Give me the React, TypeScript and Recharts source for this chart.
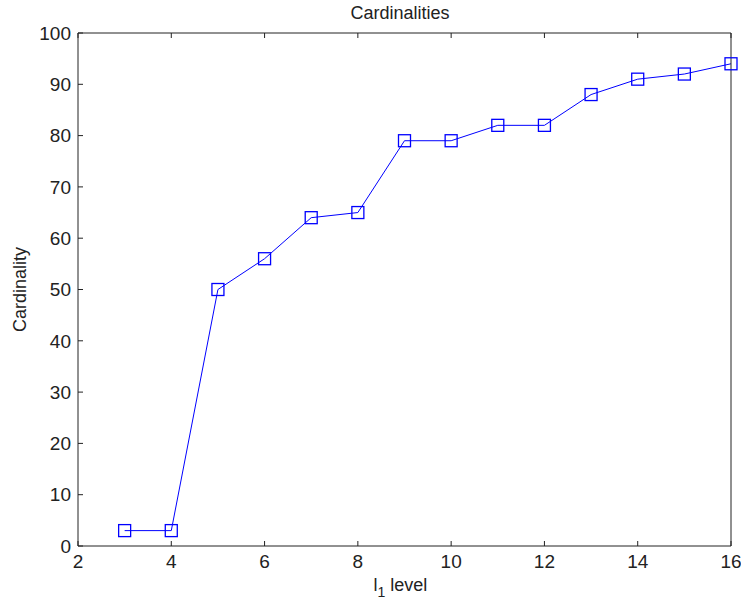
import { LineChart, Line, XAxis, YAxis, Label } from "recharts";

// l1 level vs cardinality
const levels = [3, 4, 5, 6, 7, 8, 9, 10, 11, 12, 13, 14, 15, 16];
const cardinality = [3, 3, 50, 56, 64, 65, 79, 79, 82, 82, 88, 91, 92, 94];
const xTicks = [2, 4, 6, 8, 10, 12, 14, 16];
const yTicks = [0, 10, 20, 30, 40, 50, 60, 70, 80, 90, 100];

const FONT = '"Liberation Sans", Arial, sans-serif';
const FS = 19;
const LFS = 18;
const BLUE = "#0000ff";
const AXIS = "#222222";
const TICK_LEN = 5;

const data = levels.map((l, i) => ({ level: l, card: cardinality[i] }));

function SquareDot(props: any) {
  const { cx, cy } = props;
  if (cx == null || cy == null) return null;
  const s = 12;
  return (
    <rect
      x={cx - s / 2}
      y={cy - s / 2}
      width={s}
      height={s}
      fill="none"
      stroke={BLUE}
      strokeWidth={1.3}
    />
  );
}

// MATLAB-style inward ticks; tickSize/tickMargin are 0 so x/y sit on the axis line
function BottomTick({ x, y, payload }: any) {
  return (
    <g>
      <line x1={x} x2={x} y1={y} y2={y - TICK_LEN} stroke={AXIS} />
      <text x={x} y={y + 9} dy="0.71em" textAnchor="middle" fontSize={FS} fontFamily={FONT} fill="#222">
        {payload.value}
      </text>
    </g>
  );
}

function LeftTick({ x, y, payload }: any) {
  return (
    <g>
      <line x1={x} x2={x + TICK_LEN} y1={y} y2={y} stroke={AXIS} />
      <text x={x - 7} y={y} dy="0.355em" textAnchor="end" fontSize={FS} fontFamily={FONT} fill="#222">
        {payload.value}
      </text>
    </g>
  );
}

function TopTick({ x, y }: any) {
  return <line x1={x} x2={x} y1={y} y2={y + TICK_LEN} stroke={AXIS} />;
}

function RightTick({ x, y }: any) {
  return <line x1={x} x2={x - TICK_LEN} y1={y} y2={y} stroke={AXIS} />;
}

export default function App() {
  return (
    <div style={{ position: "absolute", left: 0, top: 0, background: "#fff" }}>
      <LineChart
        width={741}
        height={609}
        data={data}
        margin={{ top: 31, right: 0, left: 8, bottom: 33 }}
      >
        <XAxis
          xAxisId="bottom"
          type="number"
          dataKey="level"
          domain={[2, 16]}
          ticks={xTicks}
          interval={0}
          height={30}
          tickSize={0}
          tickMargin={0}
          tickLine={false}
          axisLine={{ stroke: AXIS }}
          tick={<BottomTick />}
        >
          <Label
            content={(p: any) => {
              const vb = p.viewBox;
              const cx = vb.x + vb.width / 2;
              return (
                <text x={cx - 31} y={591} fontSize={LFS} fontFamily={FONT} fill="#222">
                  l
                  <tspan dy={6} fontSize={14}>
                    1
                  </tspan>
                  <tspan dy={-6}>{"  level"}</tspan>
                </text>
              );
            }}
          />
        </XAxis>
        <XAxis
          xAxisId="top"
          orientation="top"
          type="number"
          dataKey="level"
          domain={[2, 16]}
          ticks={xTicks}
          interval={0}
          height={2}
          tickSize={0}
          tickMargin={0}
          tickLine={false}
          axisLine={{ stroke: AXIS }}
          tick={<TopTick />}
        />
        <YAxis
          yAxisId="left"
          type="number"
          domain={[0, 100]}
          ticks={yTicks}
          interval={0}
          width={70}
          tickSize={0}
          tickMargin={0}
          tickLine={false}
          axisLine={{ stroke: AXIS }}
          tick={<LeftTick />}
        >
          <Label
            content={(p: any) => {
              const vb = p.viewBox;
              const cy = vb.y + vb.height / 2;
              return (
                <g>
                  <text
                    x={26}
                    y={cy}
                    transform={`rotate(-90 26 ${cy})`}
                    textAnchor="middle"
                    fontSize={LFS}
                    fontFamily={FONT}
                    fill="#222"
                  >
                    Cardinality
                  </text>
                  <text x={400} y={19} textAnchor="middle" fontSize={LFS} fontFamily={FONT} fill="#222">
                    Cardinalities
                  </text>
                </g>
              );
            }}
          />
        </YAxis>
        <YAxis
          yAxisId="right"
          orientation="right"
          type="number"
          domain={[0, 100]}
          ticks={yTicks}
          interval={0}
          width={10}
          tickSize={0}
          tickMargin={0}
          tickLine={false}
          axisLine={{ stroke: AXIS }}
          tick={<RightTick />}
        />
        <Line
          xAxisId="bottom"
          yAxisId="left"
          dataKey="card"
          stroke={BLUE}
          strokeWidth={1}
          dot={<SquareDot />}
          activeDot={false}
          isAnimationActive={false}
        />
      </LineChart>
    </div>
  );
}
